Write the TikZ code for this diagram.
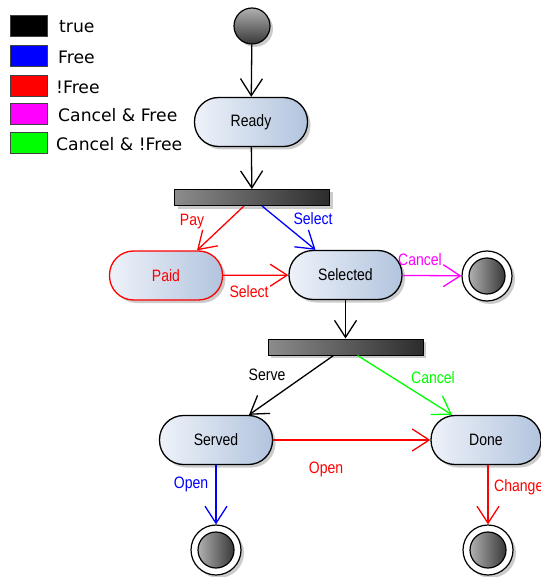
\documentclass[tikz,border=0pt]{standalone}
\usepackage{fontspec}
\setmainfont{Liberation Sans}
\newfontfamily\legendfont{DejaVu Sans}
\newfontfamily\labelfont[FakeStretch=0.85]{Liberation Sans}
\usetikzlibrary{arrows.meta,shadows}

\definecolor{boxL}{HTML}{EEF2F9}
\definecolor{boxR}{HTML}{B2C4DE}
\definecolor{barL}{HTML}{8C8C8C}
\definecolor{barR}{HTML}{2C2C2C}
\definecolor{dotL}{HTML}{B0B0B0}
\definecolor{dotR}{HTML}{383838}
\definecolor{cBlue}{HTML}{0000FF}
\definecolor{cRed}{HTML}{FF0000}
\definecolor{cMag}{HTML}{FF00FF}
\definecolor{cGreen}{HTML}{00FF00}

\tikzset{
  softshadow/.style={drop shadow={shadow xshift=3pt, shadow yshift=-3pt, opacity=0.2, fill=black}},
  statebox/.style={rectangle, rounded corners=24pt, minimum width=113pt, minimum height=49pt,
    draw=black, line width=1.3pt, left color=boxL, right color=boxR, softshadow,
    font=\labelfont\fontsize{16.5}{18}\selectfont, inner sep=0pt},
  syncbar/.style={rectangle, minimum width=155pt, minimum height=16pt, draw=black, line width=1pt,
    left color=barL, right color=barR, softshadow, inner sep=0pt},
  startdot/.style={circle, minimum size=36pt, inner sep=0pt, draw=black, line width=1.2pt,
    shading=axis, shading angle=45, top color=dotL, bottom color=dotR, softshadow},
  endring/.style={circle, minimum size=50pt, inner sep=0pt, draw=black, line width=1.2pt,
    fill=white, softshadow},
  endcore/.style={circle, minimum size=36pt, inner sep=0pt, draw=black, line width=1.2pt,
    left color=dotL, right color=dotR},
  conn/.style={line width=1.3pt, -{Straight Barb[length=17pt,width=22pt,line width=1.3pt]}},
  elabel/.style={font=\labelfont\fontsize{16.5}{18}\selectfont, inner sep=0pt},
  swatch/.style={rectangle, minimum width=37pt, minimum height=21pt, inner sep=0pt,
    draw=black!75, line width=1pt},
  legtext/.style={font=\legendfont\fontsize{17.2}{19}\selectfont, anchor=west, inner sep=0pt},
}

\begin{document}
\begin{tikzpicture}[x=1pt,y=-1pt]
\useasboundingbox (0,0) rectangle (540,577);

% legend
\node[swatch, fill=black]  (sw1) at (29,26)  {};
\node[swatch, fill=cBlue]  (sw2) at (29,56)  {};
\node[swatch, fill=cRed]   (sw3) at (29,86)  {};
\node[swatch, fill=cMag]   (sw4) at (29,114) {};
\node[swatch, fill=cGreen] (sw5) at (29,143) {};
\node[legtext] (lt1) at (59,27)  {true};
\node[legtext] (lt2) at (58,57)  {Free};
\node[legtext] (lt3) at (56,87)  {!Free};
\node[legtext] (lt4) at (58,115) {Cancel \& Free};
\node[legtext] (lt5) at (56,144) {Cancel \& !Free};

% states
\node[startdot] (init) at (252,26) {};
\node[statebox] (ready) at (251,122) {Ready};
\node[syncbar] (bar1) at (252,197.5) {};
\node[statebox, draw=cRed, text=cRed] (paid) at (166,275.5) {Paid};
\node[statebox] (selected) at (345.5,275) {Selected};
\node[endring] (end1) at (487,276) {};
\node[endcore] (end1c) at (487,276) {};
\node[syncbar] (bar2) at (345.5,347) {};
\node[statebox] (served) at (216,440) {Served};
\node[statebox, minimum width=110pt] (done) at (486,440) {Done};
\node[endring] (end2) at (216,550) {};
\node[endcore] (end2c) at (216,550) {};
\node[endring] (end3) at (488,550) {};
\node[endcore] (end3c) at (488,550) {};

% transitions
\draw[conn] (init) -- (ready);
\draw[conn] (ready) -- (bar1);
\draw[conn, cRed]  ([xshift=-8pt]bar1.south) -- ([xshift=31pt]paid.north);
\draw[conn, cBlue] ([xshift=10pt]bar1.south) -- ([xshift=-30pt]selected.north);
\draw[conn, cRed]  (paid) -- (selected);
\draw[conn, cMag]  (selected) -- (end1);
\draw[conn] (selected) -- (bar2);
\draw[conn] ([xshift=-12pt]bar2.south) -- ([xshift=33pt]served.north);
\draw[conn, cGreen] ([xshift=12pt]bar2.south) -- ([xshift=-34pt]done.north);
\draw[conn, cRed] (served) -- (done);
\draw[conn, cBlue] (served) -- (end2);
\draw[conn, cRed] ([xshift=2pt]done.south) -- (end3);

% transition labels
\node[elabel, text=cRed]   (lpay)  at (192,222) {Pay};
\node[elabel, text=cBlue]  (lsel1) at (313,219) {Select};
\node[elabel, text=cRed]   (lsel2) at (249,292) {Select};
\node[elabel, text=cMag]   (lcan1) at (420,260) {Cancel};
\node[elabel]              (lsrv)  at (267,375) {Serve};
\node[elabel, text=cGreen] (lcan2) at (433,378) {Cancel};
\node[elabel, text=cRed]   (lopn1) at (326,469) {Open};
\node[elabel, text=cBlue]  (lopn2) at (191,484) {Open};
\node[elabel, text=cRed, anchor=west] (lchg) at (494,487) {Change};
\end{tikzpicture}
\end{document}
